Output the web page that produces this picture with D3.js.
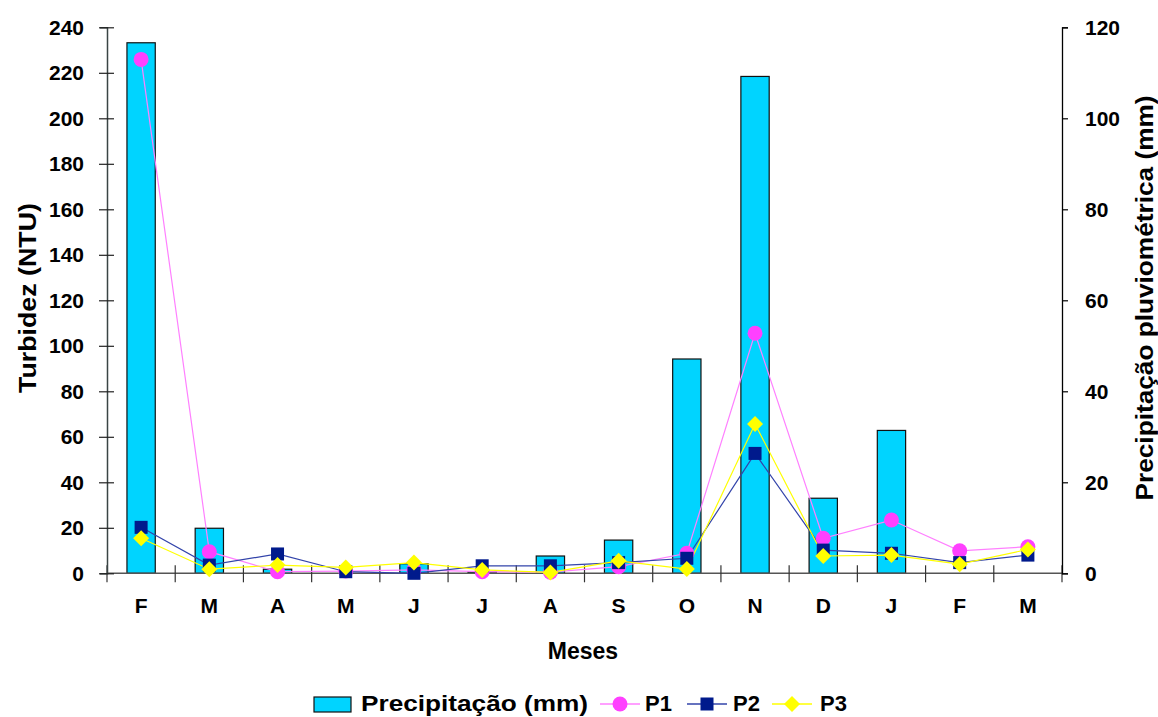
<!DOCTYPE html>
<html>
<head>
<meta charset="utf-8">
<script src="https://cdn.jsdelivr.net/npm/d3@7"></script>
<style>
  html, body { margin: 0; padding: 0; background: #fff; }
  svg { display: block; }
  text { font-family: "Liberation Sans", Arial, sans-serif; font-weight: bold; fill: #000; }
</style>
</head>
<body>
<svg id="chart" width="1158" height="717"></svg>
<script>
// ---- data ----
const months = ["F","M","A","M","J","J","A","S","O","N","D","J","F","M"];
const precip = [116.6, 9.9, 0.9, 0, 2.1, 0.3, 3.8, 7.3, 47.1, 109.2, 16.5, 31.4, 0, 0];
const p1 = [225.9, 9.5, 0.7, 1.0, 1.5, 0.7, 0.5, 2.9, 8.8, 105.5, 15.4, 23.4, 9.9, 11.7];
const p2 = [20.2, 3.6, 8.5, 0.7, 0.0, 3.3, 3.3, 4.7, 6.6, 52.7, 10.2, 8.8, 4.7, 8.0];
const p3 = [15.4, 1.8, 3.6, 2.6, 4.7, 1.5, 0.4, 5.5, 1.9, 65.6, 7.6, 8.0, 4.0, 10.5];
const leftTicks = [0,20,40,60,80,100,120,140,160,180,200,220,240];
const rightTicks = [0,20,40,60,80,100,120];

// ---- layout ----
const L = 107, R = 1062, T = 27.3, B = 573.3;
const svg = d3.select("#chart");

const x = d3.scaleBand().domain(d3.range(months.length)).range([L, R]).padding(0);
const yL = d3.scaleLinear().domain([0, 240]).range([B, T]);
const yR = d3.scaleLinear().domain([0, 120]).range([B, T]);
const cx = i => x(i) + x.bandwidth() / 2;

// ---- bars ----
const bw = x.bandwidth() * 0.415;
svg.append("g").selectAll("rect").data(precip).join("rect")
  .attr("x", (d, i) => cx(i) - bw / 2)
  .attr("y", d => yR(d))
  .attr("width", bw)
  .attr("height", d => B - yR(d))
  .attr("fill", "#00D4FF")
  .attr("stroke", d => d > 0 ? "#111" : "none")
  .attr("stroke-width", 1.2);

// ---- axes ----
svg.append("line").attr("x1", L).attr("x2", R).attr("y1", B).attr("y2", B)
  .attr("stroke", "#555").attr("stroke-width", 1.5);
const bounds = d3.range(months.length + 1).map(i => i < months.length ? x(i) : R);
svg.append("g").selectAll("line").data(bounds).join("line")
  .attr("x1", d => d).attr("x2", d => d).attr("y1", B - 8).attr("y2", B + 9)
  .attr("stroke", "#333").attr("stroke-width", 1.2);
svg.append("g").selectAll("text").data(months).join("text")
  .attr("x", (d, i) => cx(i)).attr("y", 613)
  .attr("text-anchor", "middle").attr("font-size", 21).text(d => d);

// left axis
const gL = svg.append("g").attr("transform", `translate(${L},0)`)
  .call(d3.axisLeft(yL).tickValues(leftTicks).tickSize(7).tickPadding(16).tickFormat(d3.format("d")));
gL.select(".domain").attr("stroke", "#3a4444").attr("stroke-width", 1.5);
gL.selectAll(".tick line").attr("x2", -8).attr("x1", 7).attr("stroke", "#222").attr("stroke-width", 1.2);
gL.selectAll(".tick text").attr("font-size", 21).attr("font-family", "Liberation Sans, Arial, sans-serif")
  .attr("font-weight", "bold").attr("fill", "#000").attr("x", -23);
gL.attr("font-family", null).attr("font-size", null);

// right axis
const gR = svg.append("g").attr("transform", `translate(${R},0)`)
  .call(d3.axisRight(yR).tickValues(rightTicks).tickSize(6).tickPadding(17).tickFormat(d3.format("d")));
gR.select(".domain").attr("stroke", "#000").attr("stroke-width", 1.3);
gR.selectAll(".tick line").attr("stroke", "#000").attr("stroke-width", 1.2);
gR.selectAll(".tick text").attr("font-size", 21).attr("font-family", "Liberation Sans, Arial, sans-serif")
  .attr("font-weight", "bold").attr("fill", "#000");
gR.attr("font-family", null).attr("font-size", null);

// ---- lines ----
const series = [
  { name: "P1", data: p1, line: "#FF80FF", fill: "#FF40FF", shape: "circle" },
  { name: "P2", data: p2, line: "#3344AA", fill: "#001A8C", shape: "square" },
  { name: "P3", data: p3, line: "#FFFF00", fill: "#FFFF00", shape: "diamond" }
];
const lineGen = d3.line().x((d, i) => cx(i)).y(d => yL(d));
function marker(g, shape, fill) {
  if (shape === "circle") {
    g.append("circle").attr("r", 7.5).attr("fill", fill);
  } else if (shape === "square") {
    g.append("rect").attr("x", -6.5).attr("y", -6.5).attr("width", 13).attr("height", 13).attr("fill", fill);
  } else {
    g.append("path").attr("d", "M0,-8L8,0L0,8L-8,0Z").attr("fill", fill);
  }
}
series.forEach(s => {
  svg.append("path").datum(s.data).attr("d", lineGen)
    .attr("fill", "none").attr("stroke", s.line).attr("stroke-width", 1.2);
});
series.forEach(s => {
  s.data.forEach((d, i) => {
    const g = svg.append("g").attr("transform", `translate(${cx(i)},${yL(d)})`);
    marker(g, s.shape, s.fill);
  });
});

// ---- titles ----
svg.append("text").attr("transform", "translate(36,298) rotate(-90)")
  .attr("text-anchor", "middle").attr("font-size", 23).attr("textLength", 190)
  .attr("lengthAdjust", "spacingAndGlyphs").text("Turbidez (NTU)");
svg.append("text").attr("transform", "translate(1153,298) rotate(-90)")
  .attr("text-anchor", "middle").attr("font-size", 23).attr("textLength", 405)
  .attr("lengthAdjust", "spacingAndGlyphs").text("Precipitação  pluviométrica  (mm)");
svg.append("text").attr("x", 583).attr("y", 659)
  .attr("text-anchor", "middle").attr("font-size", 23).text("Meses");

// ---- legend ----
const LY = 704, LB = 711;
const lg = svg.append("g");
lg.append("rect").attr("x", 314).attr("y", LY - 7).attr("width", 37).attr("height", 15)
  .attr("fill", "#00D4FF").attr("stroke", "#111").attr("stroke-width", 1.2);
lg.append("text").attr("x", 361).attr("y", LB).attr("font-size", 22)
  .attr("textLength", 227).attr("lengthAdjust", "spacingAndGlyphs").text("Precipitação  (mm)");
const legItems = [
  { s: series[0], mx: 620, tx: 645 },
  { s: series[1], mx: 707, tx: 733 },
  { s: series[2], mx: 792, tx: 820 }
];
legItems.forEach(it => {
  lg.append("line").attr("x1", it.mx - 20).attr("x2", it.mx + 20).attr("y1", LY).attr("y2", LY)
    .attr("stroke", it.s.line).attr("stroke-width", 1.5);
  const g = lg.append("g").attr("transform", `translate(${it.mx},${LY})`);
  marker(g, it.s.shape, it.s.fill);
  lg.append("text").attr("x", it.tx).attr("y", LB).attr("font-size", 22).text(it.s.name);
});
</script>
</body>
</html>
